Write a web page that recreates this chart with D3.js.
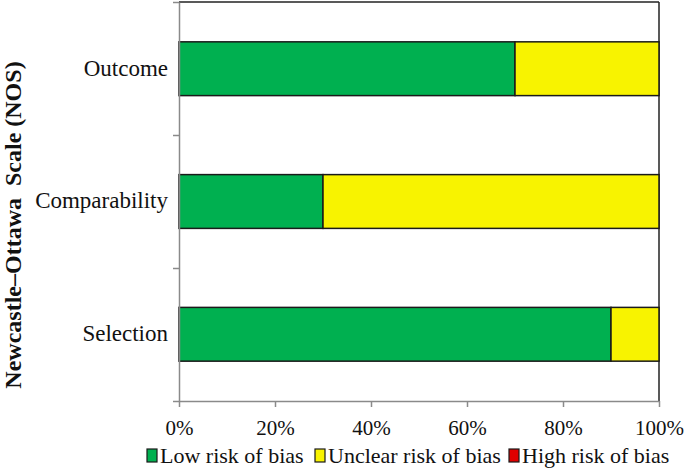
<!DOCTYPE html>
<html>
<head>
<meta charset="utf-8">
<script src="https://cdn.jsdelivr.net/npm/d3@7"></script>
<style>
  body { margin: 0; background: #fff; }
  svg { display: block; font-family: "Liberation Serif", "Times New Roman", serif; }
</style>
</head>
<body>
<div id="chart"></div>
<script>
  // NOS domains, top to bottom as drawn
  const domains = ["Outcome", "Comparability", "Selection"];
  const lowRisk = [70, 30, 90];
  const unclearRisk = [30, 70, 10];
  const highRisk = [0, 0, 0];

  const seriesNames = ["Low risk of bias", "Unclear risk of bias", "High risk of bias"];
  const seriesColors = ["#00b050", "#f8f300", "#e00000"];
  const xTicks = [0, 20, 40, 60, 80, 100];

  const width = 685, height = 474;
  const plot = { left: 179, right: 659, top: 2, bottom: 401 };
  const serif = "Liberation Serif, Times New Roman, serif";

  const svg = d3.select("#chart").append("svg")
    .attr("width", width)
    .attr("height", height);

  const x = d3.scaleLinear().domain([0, 100]).range([plot.left, plot.right]);
  const y = d3.scaleBand().domain(domains).range([plot.top, plot.bottom])
    .paddingInner(0.595).paddingOuter(0.3);

  const rows = domains.map((d, i) => ({ name: d, low: lowRisk[i], unclear: unclearRisk[i], high: highRisk[i] }));
  const stacked = d3.stack().keys(["low", "unclear", "high"])(rows);

  // frame: top and right dark lines
  svg.append("line")
    .attr("x1", plot.left).attr("x2", plot.right)
    .attr("y1", plot.top).attr("y2", plot.top)
    .attr("stroke", "#222").attr("stroke-width", 1.5);
  svg.append("line")
    .attr("x1", plot.right).attr("x2", plot.right)
    .attr("y1", plot.top).attr("y2", plot.bottom)
    .attr("stroke", "#222").attr("stroke-width", 1.5);

  // bars
  svg.append("g").selectAll("g")
    .data(stacked)
    .join("g")
    .attr("fill", (d, i) => seriesColors[i])
    .selectAll("rect")
    .data(d => d.filter(s => s[1] - s[0] > 0))
    .join("rect")
    .attr("x", d => x(d[0]))
    .attr("y", d => y(d.data.name))
    .attr("width", d => x(d[1]) - x(d[0]))
    .attr("height", y.bandwidth())
    .attr("stroke", "#1a1a1a")
    .attr("stroke-width", 1.5);

  // x axis
  const xAxis = svg.append("g")
    .attr("transform", `translate(0,${plot.bottom})`)
    .call(d3.axisBottom(x).tickValues(xTicks).tickSize(6).tickSizeOuter(0).tickFormat(d => d + "%"));
  xAxis.select(".domain").attr("stroke", "#8a8a8a").attr("stroke-width", 1.5);
  xAxis.selectAll(".tick line").attr("stroke", "#8a8a8a").attr("stroke-width", 1.5);
  xAxis.selectAll(".tick text")
    .attr("y", 34)
    .attr("dy", null)
    .attr("font-size", 21)
    .attr("font-family", serif)
    .attr("fill", "#111");

  // y axis: ticks between categories
  const yEdges = d3.scaleLinear().domain([0, domains.length]).range([plot.top, plot.bottom]);
  const yAxis = svg.append("g")
    .attr("transform", `translate(${plot.left},0)`)
    .call(d3.axisLeft(yEdges).tickValues(d3.range(domains.length + 1)).tickSize(6).tickSizeOuter(0).tickFormat(""));
  yAxis.select(".domain").attr("stroke", "#8a8a8a").attr("stroke-width", 1.5);
  yAxis.selectAll(".tick line").attr("stroke", "#8a8a8a").attr("stroke-width", 1.5);

  svg.append("g").selectAll("text")
    .data(domains)
    .join("text")
    .attr("x", 168)
    .attr("y", d => y(d) + y.bandwidth() / 2)
    .attr("dy", "0.3em")
    .attr("text-anchor", "end")
    .attr("font-size", 23)
    .attr("font-family", serif)
    .attr("fill", "#111")
    .text(d => d);

  // y title
  svg.append("text")
    .attr("transform", "translate(21,225) rotate(-90)")
    .attr("text-anchor", "middle")
    .attr("font-size", 24)
    .attr("font-weight", "bold")
    .attr("font-family", serif)
    .attr("fill", "#111")
    .text("Newcastle\u2013Ottawa\u00a0\u00a0Scale (NOS)");

  // legend
  const legendX = [147, 315, 509];
  const legend = svg.append("g").selectAll("g")
    .data(seriesNames)
    .join("g")
    .attr("transform", (d, i) => `translate(${legendX[i]},463)`);
  legend.append("rect")
    .attr("x", 0).attr("y", -14)
    .attr("width", 10).attr("height", 13)
    .attr("fill", (d, i) => seriesColors[i])
    .attr("stroke", "#1a1a1a")
    .attr("stroke-width", 1.2);
  legend.append("text")
    .attr("x", 13)
    .attr("font-size", 22)
    .attr("font-family", serif)
    .attr("fill", "#111")
    .text(d => d);
</script>
</body>
</html>
